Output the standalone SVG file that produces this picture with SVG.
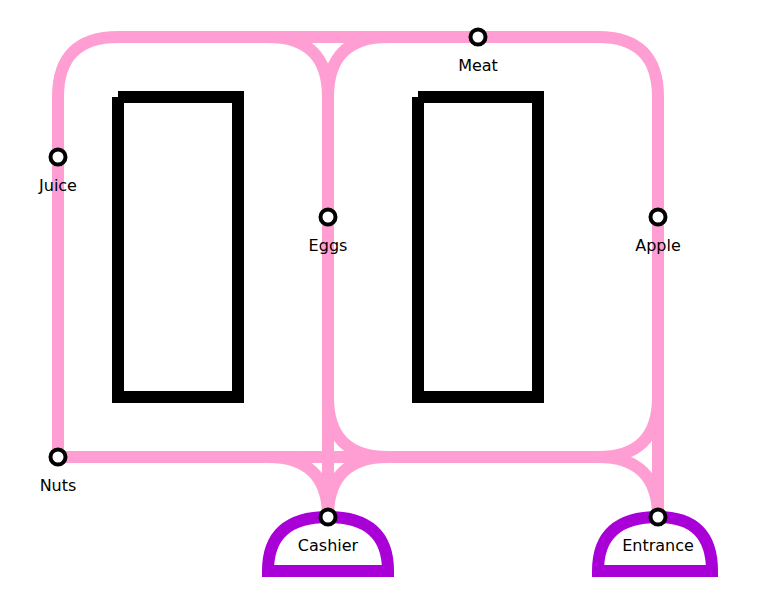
<svg xmlns="http://www.w3.org/2000/svg" width="763" height="592" viewBox="0 0 763 592">
<style>
.wall{fill:none;stroke:#000;stroke-width:12}
.path{fill:none;stroke:#ff9ed2;stroke-width:12}
.zone{fill:none;stroke:#a900d8;stroke-width:12}
.dot{fill:#fff;stroke:#000;stroke-width:4}
text{font-family:"DejaVu Sans",Verdana,sans-serif;font-size:16px;text-anchor:middle;fill:#000}
</style>
<rect width="763" height="592" fill="#fff"/>
<g id="shelves">
<path class="wall" d="M118 97H238V397H118V97"/>
<path class="wall" d="M418 97H538V397H418V97"/>
</g>
<g id="zones">
<path class="zone" d="M268 577V571Q268 517 328 517Q388 517 388 571V577M268 571H388"/>
<path class="zone" d="M598 577V571Q598 517 658 517Q712 517 712 571V577M598 571H712"/>
</g>
<g id="connectors">
<path class="path" d="M58 157V97Q58 37 118 37H598Q658 37 658 97V517"/>
<path class="path" d="M268 37Q328 37 328 97"/>
<path class="path" d="M388 37Q328 37 328 97V517"/>
<path class="path" d="M58 157V457H598Q658 457 658 517"/>
<path class="path" d="M268 457Q328 457 328 517"/>
<path class="path" d="M328 397Q328 457 388 457"/>
<path class="path" d="M328 517Q328 457 388 457"/>
<path class="path" d="M658 397Q658 457 598 457"/>
</g>
<g id="meat"><circle class="dot" cx="478" cy="37" r="7.5"/><text x="478" y="71">Meat</text></g>
<g id="juice"><circle class="dot" cx="58" cy="157" r="7.5"/><text x="58" y="191">Juice</text></g>
<g id="eggs"><circle class="dot" cx="328" cy="217" r="7.5"/><text x="328" y="251">Eggs</text></g>
<g id="apple"><circle class="dot" cx="658" cy="217" r="7.5"/><text x="658" y="251">Apple</text></g>
<g id="nuts"><circle class="dot" cx="58" cy="457" r="7.5"/><text x="58" y="491">Nuts</text></g>
<g id="cashier"><circle class="dot" cx="328" cy="517" r="7.5"/><text x="328" y="551">Cashier</text></g>
<g id="entrance"><circle class="dot" cx="658" cy="517" r="7.5"/><text x="658" y="551">Entrance</text></g>
</svg>
